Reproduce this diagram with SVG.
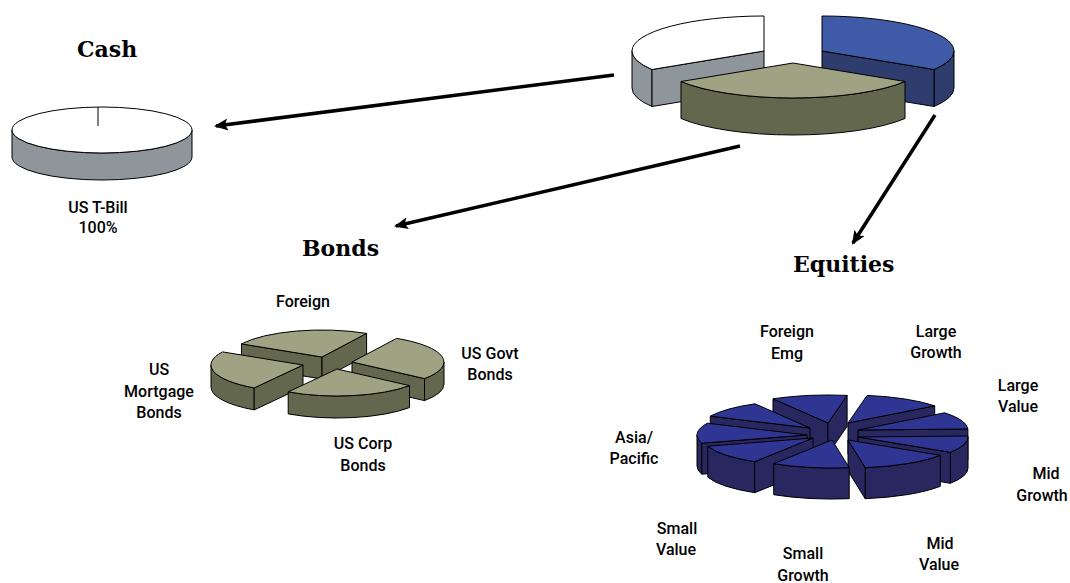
<svg xmlns="http://www.w3.org/2000/svg" width="1070" height="583" viewBox="0 0 1070 583">
<defs>
<style>
.t{font-family:"DejaVu Serif","Liberation Serif",serif;font-weight:bold;font-size:22px;fill:#000}
.l{font-family:Roboto,"Liberation Sans","Noto Sans",sans-serif;font-weight:500;font-size:16px;fill:#000;text-anchor:middle}
.s{stroke:#000;stroke-width:1;stroke-linejoin:round}
.wt{fill:#ffffff}.ws{fill:#8e959b}
.bt{fill:#3f5ba8}.bs{fill:#2f3d6e}
.ot{fill:#a0a383}.os{fill:#63674d}
.et{fill:#2f3592}.es{fill:#29275f}
.c{stroke:#000;stroke-width:3.5;fill:none;marker-end:url(#ah)}
</style>
<marker id="ah" markerUnits="userSpaceOnUse" markerWidth="14" markerHeight="12" refX="12" refY="6" orient="auto">
<path d="M0,0 L14,6 L0,12 L3,6 Z" fill="#000"/>
</marker>
</defs>
<rect width="1070" height="583" fill="#fff"/>

<g id="main-pie" class="s">
<path class="ws" d="M652,69.5 A132 35 0 0 1 632,51 L632,88 A132 35 0 0 0 652,106.5 Z"/>
<path class="ws" d="M764,51 L652,69.5 L652,106.5 L764,88 Z"/>
<path class="wt" d="M764,51 L652,69.5 A132 35 0 0 1 632,51 A132 35 0 0 1 764,16 Z"/>
<path class="bs" d="M954,51 A132 35 0 0 1 934,69.5 L934,106.5 A132 35 0 0 0 954,88 Z"/>
<path class="bs" d="M822,51 L934,69.5 L934,106.5 L822,88 Z"/>
<path class="bt" d="M822,51 L822,16 A132 35 0 0 1 954,51 A132 35 0 0 1 934,69.5 Z"/>
<path class="os" d="M905,81.5 A132 35 0 0 1 681,81.5 L681,118.5 A132 35 0 0 0 905,118.5 Z"/>
<path class="ot" d="M793,63 L905,81.5 A132 35 0 0 1 681,81.5 Z"/>
</g>

<g id="cash">
<text class="t" x="77" y="57">Cash</text>
<g class="s">
<path class="ws" d="M12,130 A90 23 0 0 0 192,130 L192,157 A90 23 0 0 1 12,157 Z"/>
<ellipse class="wt" cx="102" cy="130" rx="90" ry="23"/>
<line x1="98" y1="107" x2="98" y2="126"/>
</g>
<text class="l" x="98" y="213">US T-Bill</text>
<text class="l" x="98" y="233">100%</text>
</g>

<g id="bonds">
<text class="t" x="302" y="256">Bonds</text>
<g class="s">
<path class="os" d="M322,357 L241.5,343.9 L241.5,365.9 L322,379 Z"/>
<path class="os" d="M322,357 L366.6,333.4 L366.6,355.4 L322,379 Z"/>
<path class="ot" d="M322,357 L241.5,343.9 A92 27 0 0 1 366.6,333.4 Z"/>
<path class="os" d="M444,362 A92 27 0 0 1 424.5,378.6 L424.5,400.6 A92 27 0 0 0 444,384 Z"/>
<path class="os" d="M352,362 L424.5,378.6 L424.5,400.6 L352,384 Z"/>
<path class="ot" d="M352,362 L396.6,338.4 A92 27 0 0 1 424.5,378.6 Z"/>
<path class="os" d="M254.2,387.9 A92 27 0 0 1 211,365 L211,387 A92 27 0 0 0 254.2,409.9 Z"/>
<path class="os" d="M303,365 L254.2,387.9 L254.2,409.9 L303,387 Z"/>
<path class="ot" d="M303,365 L254.2,387.9 A92 27 0 0 1 222.5,351.9 Z"/>
<path class="os" d="M409.5,385.6 A92 27 0 0 1 288.2,391.9 L288.2,413.9 A92 27 0 0 0 409.5,407.6 Z"/>
<path class="ot" d="M337,369 L409.5,385.6 A92 27 0 0 1 288.2,391.9 Z"/>
</g>
<text class="l" x="303" y="307">Foreign</text>
<text class="l" x="490" y="359">US Govt</text>
<text class="l" x="490" y="380">Bonds</text>
<text class="l" x="363" y="449">US Corp</text>
<text class="l" x="363" y="471">Bonds</text>
<text class="l" x="159" y="375">US</text>
<text class="l" x="159" y="397">Mortgage</text>
<text class="l" x="159" y="418">Bonds</text>
</g>

<g id="equities">
<text class="t" x="793" y="272">Equities</text>
<g class="s">
<path class="es" d="M828,423 L773,398.8 L773,429.8 L828,454 Z"/>
<path class="es" d="M828,423 L847.1,395.4 L847.1,426.4 L828,454 Z"/>
<path class="et" d="M828,423 L773,398.8 A110 28 0 0 1 847.1,395.4 Z"/>
<path class="es" d="M848,423 L934.7,405.8 L934.7,436.8 L848,454 Z"/>
<path class="et" d="M848,423 L867.1,395.4 A110 28 0 0 1 934.7,405.8 Z"/>
<path class="es" d="M810,428 L710.3,416.2 L710.3,447.2 L810,459 Z"/>
<path class="et" d="M810,428 L710.3,416.2 A110 28 0 0 1 755,403.8 Z"/>
<path class="es" d="M858,430 L967.9,429 L967.9,460 L858,461 Z"/>
<path class="et" d="M858,430 L944.7,412.8 A110 28 0 0 1 967.9,429 Z"/>
<path class="es" d="M701.8,443.2 A110 28 0 0 1 697,435 L697,466 A110 28 0 0 0 701.8,474.2 Z"/>
<path class="es" d="M807,435 L701.8,443.2 L701.8,474.2 L807,466 Z"/>
<path class="et" d="M807,435 L701.8,443.2 A110 28 0 0 1 707.3,423.2 Z"/>
<path class="es" d="M968,437 A110 28 0 0 1 950.3,452.3 L950.3,483.3 A110 28 0 0 0 968,468 Z"/>
<path class="es" d="M858,437 L950.3,452.3 L950.3,483.3 L858,468 Z"/>
<path class="et" d="M858,437 L967.9,436 A110 28 0 0 1 950.3,452.3 Z"/>
<path class="es" d="M754.7,461.7 A110 28 0 0 1 707.8,446.2 L707.8,477.2 A110 28 0 0 0 754.7,492.7 Z"/>
<path class="es" d="M813,438 L754.7,461.7 L754.7,492.7 L813,469 Z"/>
<path class="et" d="M813,438 L754.7,461.7 A110 28 0 0 1 707.8,446.2 Z"/>
<path class="es" d="M940.3,455.3 A110 28 0 0 1 865.2,467.7 L865.2,498.7 A110 28 0 0 0 940.3,486.3 Z"/>
<path class="es" d="M848,440 L865.2,467.7 L865.2,498.7 L848,471 Z"/>
<path class="et" d="M848,440 L940.3,455.3 A110 28 0 0 1 865.2,467.7 Z"/>
<path class="es" d="M849.2,467.7 A110 28 0 0 1 773.7,463.7 L773.7,494.7 A110 28 0 0 0 849.2,498.7 Z"/>
<path class="et" d="M832,440 L849.2,467.7 A110 28 0 0 1 773.7,463.7 Z"/>
</g>
<text class="l" x="787" y="337">Foreign</text>
<text class="l" x="787" y="359">Emg</text>
<text class="l" x="936" y="337">Large</text>
<text class="l" x="936" y="358">Growth</text>
<text class="l" x="1018" y="391">Large</text>
<text class="l" x="1018" y="412">Value</text>
<text class="l" x="634" y="443">Asia/</text>
<text class="l" x="634" y="464">Pacific</text>
<text class="l" x="1046" y="479">Mid</text>
<text class="l" x="1042" y="501">Growth</text>
<text class="l" x="677" y="534">Small</text>
<text class="l" x="676" y="555">Value</text>
<text class="l" x="803" y="559">Small</text>
<text class="l" x="803" y="581">Growth</text>
<text class="l" x="940" y="549">Mid</text>
<text class="l" x="939" y="570">Value</text>
</g>

<g id="connectors">
<line class="c" x1="614" y1="75" x2="216" y2="126"/>
<line class="c" x1="740" y1="146" x2="396" y2="226"/>
<line class="c" x1="935" y1="115" x2="853" y2="243"/>
</g>
</svg>
